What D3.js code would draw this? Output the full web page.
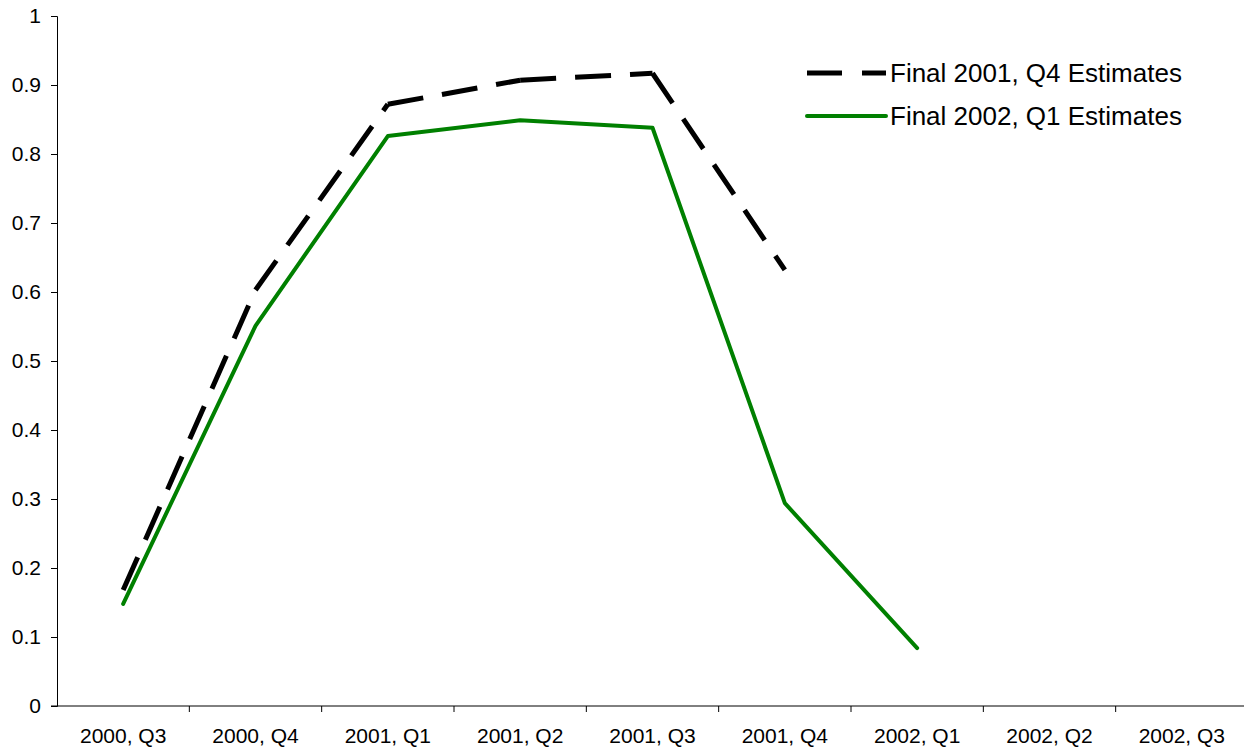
<!DOCTYPE html>
<html>
<head>
<meta charset="utf-8">
<script src="https://cdn.jsdelivr.net/npm/d3@7"></script>
<style>
  body { margin: 0; background: #fff; }
  text { font-family: "Liberation Sans", Arial, sans-serif; fill: #000; }
  .axis path, .axis line { stroke: #000; stroke-width: 1; }
</style>
</head>
<body>
<script>
// categories and series
var quarters = ["2000, Q3", "2000, Q4", "2001, Q1", "2001, Q2", "2001, Q3",
                "2001, Q4", "2002, Q1", "2002, Q2", "2002, Q3"];
var final2001Q4 = [0.168, 0.603, 0.872, 0.907, 0.917, 0.632];
var final2002Q1 = [0.148, 0.551, 0.826, 0.849, 0.838, 0.294, 0.084];
var seriesNames = ["Final 2001, Q4 Estimates", "Final 2002, Q1 Estimates"];
var yTicks = [0, 0.1, 0.2, 0.3, 0.4, 0.5, 0.6, 0.7, 0.8, 0.9, 1];

var margin = {top: 16, right: -4, bottom: 48, left: 57},
    width = 1244 - margin.left - margin.right,
    height = 754 - margin.top - margin.bottom;

var svg = d3.select("body").append("svg")
    .attr("width", 1244)
    .attr("height", 754);

var g = svg.append("g")
    .attr("transform", "translate(" + margin.left + "," + margin.top + ")");

// scales
var xScale = d3.scaleBand().domain(quarters).range([0, width]);
var yScale = d3.scaleLinear().domain([0, 1]).range([height, 0]);

// y axis
var yAxis = g.append("g")
    .attr("class", "axis")
    .call(d3.axisLeft(yScale).tickValues(yTicks).tickSize(6).tickPadding(10)
      .tickFormat(function(d) { return d === 0 || d === 1 ? d : d.toFixed(1); }));
yAxis.selectAll("text").style("font-size", "21px");

// x axis - ticks sit between categories
var xAxis = g.append("g")
    .attr("class", "axis")
    .attr("transform", "translate(0," + height + ")")
    .call(d3.axisBottom(xScale).tickSize(0).tickPadding(22));
xAxis.selectAll("text").style("font-size", "21px");
xAxis.select(".domain").remove();
xAxis.append("line")
    .attr("x1", -6).attr("x2", width)
    .attr("stroke", "#000");
xAxis.selectAll(".sep")
    .data(quarters.slice(1))
  .enter().append("line")
    .attr("class", "sep")
    .attr("x1", function(d) { return xScale(d); })
    .attr("x2", function(d) { return xScale(d); })
    .attr("y1", 0).attr("y2", 6)
    .attr("stroke", "#000");

var line = d3.line()
    .x(function(d) { return xScale(quarters[d.i]) + xScale.bandwidth() / 2; })
    .y(function(d) { return yScale(d.v); });

function points(values) {
  return values.map(function(v, i) { return {i: i, v: v}; });
}

// series
g.append("path")
    .datum(points(final2002Q1))
    .attr("d", line)
    .attr("fill", "none")
    .attr("stroke", "#008000")
    .attr("stroke-width", 4)
    .attr("stroke-linejoin", "round")
    .attr("stroke-linecap", "round");

// dashed series: each segment dashed on its own, like the original
g.selectAll(".seg")
    .data(d3.pairs(points(final2001Q4)))
  .enter().append("path")
    .attr("class", "seg")
    .attr("d", line)
    .attr("fill", "none")
    .attr("stroke", "#000")
    .attr("stroke-width", 5)
    .attr("stroke-dasharray", "36,19");

// legend
var legend = svg.append("g").attr("transform", "translate(807,73)");
var styles = [
  {stroke: "#000", width: 5, dash: "35,20", cap: "butt"},
  {stroke: "#008000", width: 4, dash: null, cap: "round"}
];
seriesNames.forEach(function(name, i) {
  var row = legend.append("g").attr("transform", "translate(0," + (i * 43) + ")");
  row.append("line")
      .attr("x1", 0).attr("x2", 79)
      .attr("stroke", styles[i].stroke)
      .attr("stroke-width", styles[i].width)
      .attr("stroke-dasharray", styles[i].dash)
      .attr("stroke-linecap", styles[i].cap);
  row.append("text")
      .attr("x", 83)
      .attr("y", 9)
      .style("font-size", "26px")
      .text(name);
});
</script>
</body>
</html>
